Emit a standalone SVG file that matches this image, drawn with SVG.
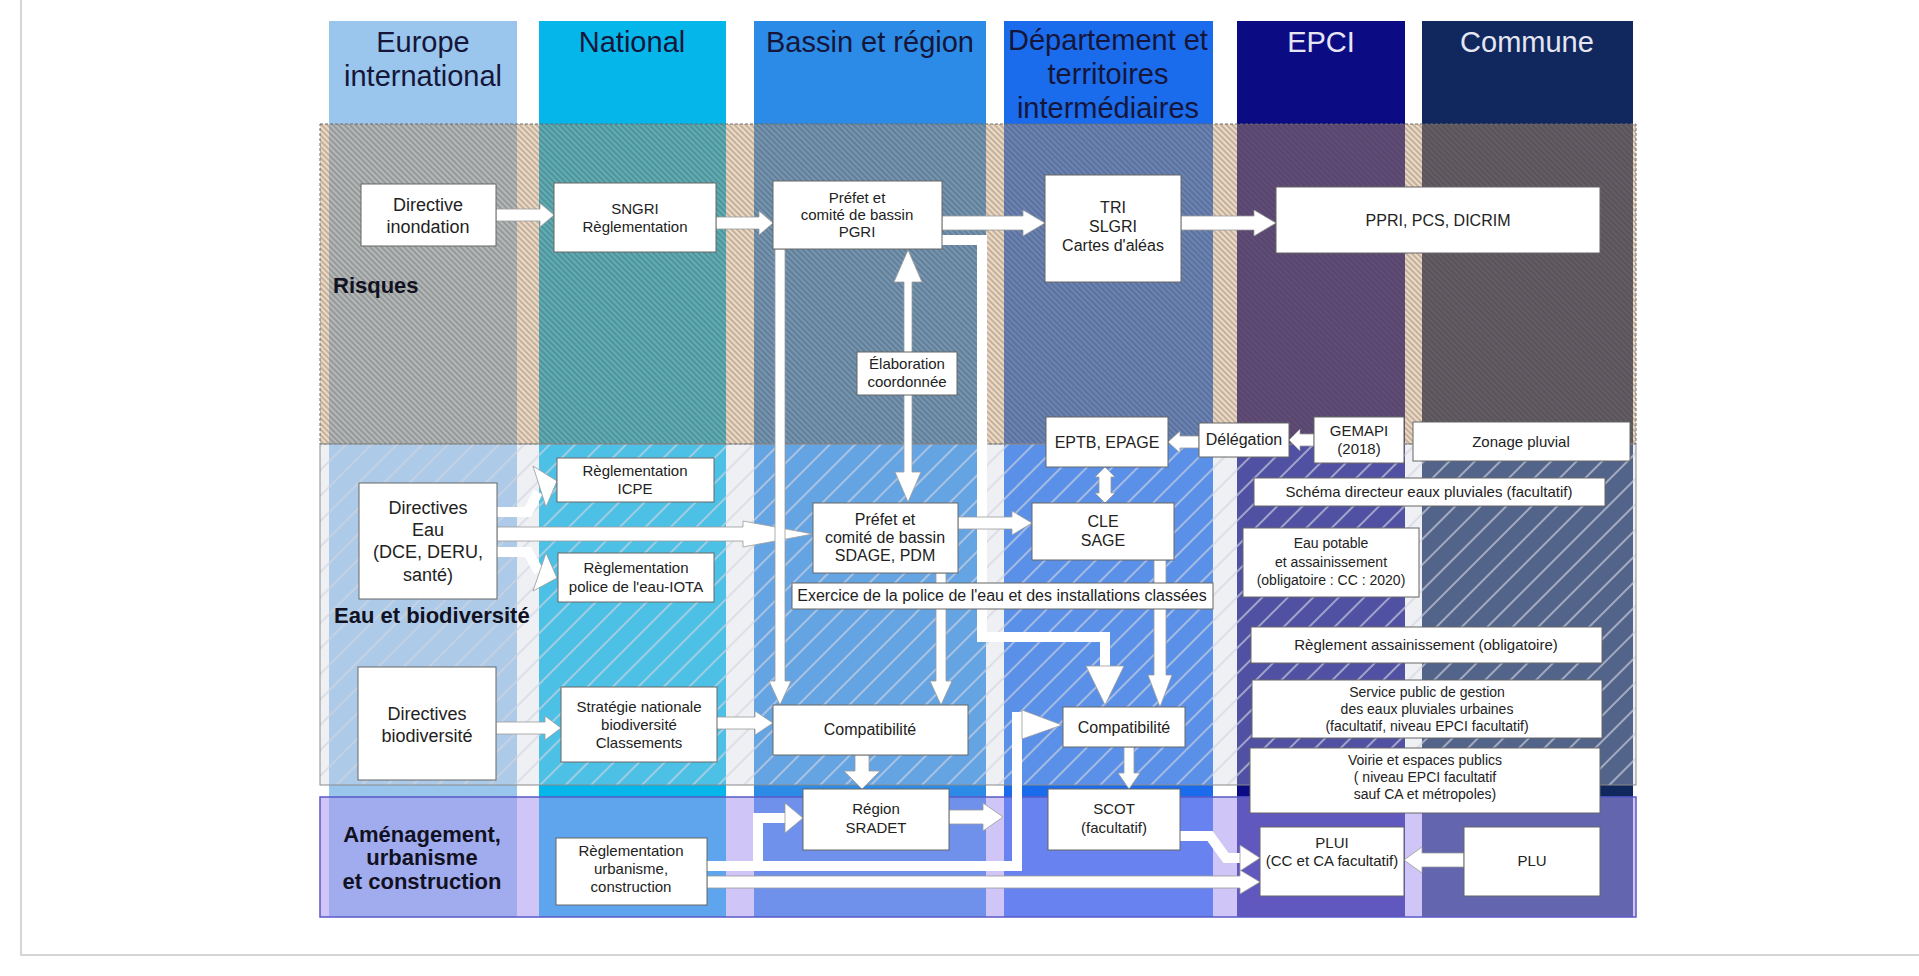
<svg xmlns="http://www.w3.org/2000/svg" width="1919" height="976" viewBox="0 0 1919 976">
<defs>
<style>
.hdr{font-family:"Liberation Sans",Arial,sans-serif;font-size:29px;text-anchor:middle;fill:#16163a}
.hdrl{font-family:"Liberation Sans",Arial,sans-serif;font-size:29px;text-anchor:middle;fill:#e6e6f2}
.band{font-family:"Liberation Sans",Arial,sans-serif;font-size:22px;font-weight:bold;fill:#111122}
.box{fill:#ffffff;stroke:#666;stroke-width:1}
.t{font-family:"Liberation Sans",Arial,sans-serif;font-size:15px;text-anchor:middle;fill:#222}
.t16{font-family:"Liberation Sans",Arial,sans-serif;font-size:16px;text-anchor:middle;fill:#222}
.t18{font-family:"Liberation Sans",Arial,sans-serif;font-size:18px;text-anchor:middle;fill:#222}
.t14{font-family:"Liberation Sans",Arial,sans-serif;font-size:14px;text-anchor:middle;fill:#222}
.arr{fill:#ffffff;stroke:#9a9a9a;stroke-width:0.8;stroke-linejoin:miter}
.ln{fill:none;stroke:#ffffff;stroke-width:10;stroke-linejoin:miter}
</style>
<pattern id="hatchR" patternUnits="userSpaceOnUse" width="4" height="4" patternTransform="rotate(45)">
<line x1="0" y1="1" x2="4" y2="1" stroke="#35354a" stroke-width="1.2" stroke-opacity="0.42"/>
</pattern>
<pattern id="hatchE" patternUnits="userSpaceOnUse" width="18" height="18" patternTransform="rotate(-45)">
<line x1="0" y1="1" x2="18" y2="1" stroke="#d2d4de" stroke-width="1.4" stroke-opacity="0.9"/>
</pattern>
</defs>

<rect x="0" y="0" width="1919" height="976" fill="#ffffff"/>
<path d="M21,0 V955 H1919" fill="none" stroke="#c8c8c8" stroke-width="1.5"/>

<g id="columns">
<rect x="329" y="21" width="188" height="896" fill="#9ac6ee"/>
<rect x="539" y="21" width="187" height="896" fill="#05b6ea"/>
<rect x="754" y="21" width="232" height="896" fill="#2b8be6"/>
<rect x="1004" y="21" width="209" height="896" fill="#1b6ced"/>
<rect x="1237" y="21" width="168" height="896" fill="#0b0b84"/>
<rect x="1422" y="21" width="211" height="896" fill="#10285e"/>
</g>

<g id="bands">
<rect x="320" y="124" width="1316" height="320" fill="#d8a66a" fill-opacity="0.42"/>
<rect x="320" y="124" width="1316" height="320" fill="url(#hatchR)" stroke="#6a6a6a" stroke-width="1" stroke-dasharray="3,2"/>
<rect x="320" y="444" width="1316" height="341" fill="#d0d4dc" fill-opacity="0.35"/>
<rect x="320" y="444" width="1316" height="341" fill="url(#hatchE)" stroke="#8a8a8a" stroke-width="1"/>
<rect x="320" y="797" width="1316" height="120" fill="#a898f0" fill-opacity="0.55" stroke="#5a5ac8" stroke-width="1.5"/>
</g>

<g id="headers">
<text class="hdr" x="423" y="52">Europe</text>
<text class="hdr" x="423" y="86">international</text>
<text class="hdr" x="632" y="52">National</text>
<text class="hdr" x="870" y="52">Bassin et région</text>
<text class="hdr" x="1108" y="50">Département et</text>
<text class="hdr" x="1108" y="84">territoires</text>
<text class="hdr" x="1108" y="118">intermédiaires</text>
<text class="hdrl" x="1321" y="52">EPCI</text>
<text class="hdrl" x="1527" y="52">Commune</text>
</g>

<g id="band-labels">
<text class="band" x="333" y="293">Risques</text>
<text class="band" x="334" y="623">Eau et biodiversité</text>
<text class="band" x="422" y="842" text-anchor="middle">Aménagement,</text>
<text class="band" x="422" y="865" text-anchor="middle">urbanisme</text>
<text class="band" x="422" y="889" text-anchor="middle">et construction</text>
</g>

<g id="connectors">
<path class="ln" d="M942,240 H982 V637 H1105 V668"/>
<polygon class="arr" points="1086,666 1124,666 1105,705"/>
<path class="ln" d="M707,866 H1017 V712"/>
<polygon class="arr" points="1022,710 1062,725 1022,739"/>
<path class="ln" d="M758,866 V818 H787"/>
<polygon class="arr" points="785,803 803,818 785,833"/>
<path class="ln" d="M1180,836 H1210 L1226,858 H1242"/>
<polygon class="arr" points="1240,845 1260,858 1240,871"/>
<path class="ln" d="M497,512 H528 L538,492" stroke-width="9"/>
<polygon class="arr" points="533,466 557,481 546,507"/>
<path class="ln" d="M497,552 H528 L539,572" stroke-width="9"/>
<polygon class="arr" points="546,553 557,578 533,591"/>
<polygon class="arr" points="496,209 540,209 540,203 554,215 540,227 540,221 496,221"/>
<polygon class="arr" points="716,217 759,217 759,211 773,223 759,235 759,229 716,229"/>
<polygon class="arr" points="942,216 1023,216 1023,210 1045,223 1023,236 1023,230 942,230"/>
<polygon class="arr" points="1181,216 1254,216 1254,210 1276,223 1254,236 1254,230 1181,230"/>
<polygon class="arr" points="958,517 1012,517 1012,511 1032,523 1012,535 1012,529 958,529"/>
<polygon class="arr" points="497,527 743,527 743,521 813,534 743,547 743,541 497,541"/>
<polygon class="arr" points="496,722 545,722 545,716 561,728 545,740 545,734 496,734"/>
<polygon class="arr" points="715,717 755,717 755,711 773,723 755,735 755,729 715,729"/>
<polygon class="arr" points="1199,436 1180,436 1180,431 1168,442 1180,453 1180,448 1199,448"/>
<polygon class="arr" points="1314,434 1300,434 1300,429 1289,440 1300,451 1300,446 1314,446"/>
<polygon class="arr" points="949,810 983,810 983,803 1003,817 983,831 983,824 949,824"/>
<polygon class="arr" points="1464,853 1422,853 1422,847 1404,860 1422,873 1422,867 1464,867"/>
<polygon class="arr" points="707,876 1240,876 1240,870 1260,882 1240,894 1240,888 707,888"/>
<polygon class="arr" points="775,249 785,249 785,681 791,681 780,705 769,681 775,681"/>
<polygon class="arr" points="936,573 946,573 946,681 952,681 941,705 930,681 936,681"/>
<polygon class="arr" points="1154,560 1166,560 1166,675 1172,675 1160,707 1148,675 1154,675"/>
<polygon class="arr" points="855,755 869,755 869,771 880,771 862,789 844,771 855,771"/>
<polygon class="arr" points="1124,747 1134,747 1134,773 1140,773 1129,789 1118,773 1124,773"/>
<polygon class="arr" points="908,250 922,282 912,282 912,472 921,472 908,502 895,472 904,472 904,282 894,282"/>
<polygon class="arr" points="1105,467 1115,477 1111,477 1111,493 1115,493 1105,503 1095,493 1099,493 1099,477 1095,477"/>
</g>

<g id="dir-inondation"><rect class="box" x="361" y="184" width="135" height="62"/><text class="t18" x="428" y="211">Directive</text><text class="t18" x="428" y="233">inondation</text></g>
<g id="sngri"><rect class="box" x="554" y="183" width="162" height="69"/><text class="t" x="635" y="214">SNGRI</text><text class="t" x="635" y="232">Règlementation</text></g>
<g id="pgri"><rect class="box" x="773" y="181" width="169" height="68"/><text class="t" x="857" y="203">Préfet et</text><text class="t" x="857" y="220">comité de bassin</text><text class="t" x="857" y="237">PGRI</text></g>
<g id="tri"><rect class="box" x="1045" y="175" width="136" height="107"/><text class="t16" x="1113" y="213">TRI</text><text class="t16" x="1113" y="232">SLGRI</text><text class="t16" x="1113" y="251">Cartes d'aléas</text></g>
<g id="ppri"><rect class="box" x="1276" y="187" width="324" height="66"/><text class="t16" x="1438" y="226">PPRI, PCS, DICRIM</text></g>
<g id="elaboration"><rect class="box" x="857" y="352" width="100" height="43"/><text class="t" x="907" y="369">Élaboration</text><text class="t" x="907" y="387">coordonnée</text></g>
<g id="eptb"><rect class="box" x="1046" y="417" width="122" height="50"/><text class="t16" x="1107" y="448">EPTB, EPAGE</text></g>
<g id="delegation"><rect class="box" x="1199" y="423" width="90" height="34"/><text class="t16" x="1244" y="445">Délégation</text></g>
<g id="gemapi"><rect class="box" x="1314" y="417" width="90" height="46"/><text class="t" x="1359" y="436">GEMAPI</text><text class="t" x="1359" y="454">(2018)</text></g>
<g id="zonage"><rect class="box" x="1413" y="422" width="217" height="39"/><text class="t" x="1521" y="447">Zonage pluvial</text></g>
<g id="schema"><rect class="box" x="1254" y="478" width="351" height="28"/><text class="t" x="1429" y="497">Schéma directeur eaux pluviales (facultatif)</text></g>
<g id="dir-eau"><rect class="box" x="359" y="483" width="138" height="116"/><text class="t18" x="428" y="514">Directives</text><text class="t18" x="428" y="536">Eau</text><text class="t18" x="428" y="558">(DCE, DERU,</text><text class="t18" x="428" y="581">santé)</text></g>
<g id="icpe"><rect class="box" x="557" y="458" width="157" height="44"/><text class="t" x="635" y="476">Règlementation</text><text class="t" x="635" y="494">ICPE</text></g>
<g id="iota"><rect class="box" x="558" y="553" width="156" height="49"/><text class="t" x="636" y="573">Règlementation</text><text class="t" x="636" y="592">police de l'eau-IOTA</text></g>
<g id="sdage"><rect class="box" x="813" y="503" width="145" height="70"/><text class="t16" x="885" y="525">Préfet et</text><text class="t16" x="885" y="543">comité de bassin</text><text class="t16" x="885" y="561">SDAGE, PDM</text></g>
<g id="cle"><rect class="box" x="1032" y="503" width="142" height="57"/><text class="t16" x="1103" y="527">CLE</text><text class="t16" x="1103" y="546">SAGE</text></g>
<g id="eau-potable"><rect class="box" x="1243" y="528" width="176" height="69"/><text class="t14" x="1331" y="548">Eau potable</text><text class="t14" x="1331" y="567">et assainissement</text><text class="t14" x="1331" y="585">(obligatoire : CC : 2020)</text></g>
<g id="exercice"><rect class="box" x="792" y="583" width="421" height="26"/><text class="t16" x="1002" y="601">Exercice de la police de l'eau et des installations classées</text></g>
<g id="reglement-ass"><rect class="box" x="1251" y="627" width="351" height="36"/><text class="t" x="1426" y="650">Règlement assainissement (obligatoire)</text></g>
<g id="dir-biodiv"><rect class="box" x="358" y="667" width="138" height="113"/><text class="t18" x="427" y="720">Directives</text><text class="t18" x="427" y="742">biodiversité</text></g>
<g id="strategie"><rect class="box" x="561" y="687" width="156" height="75"/><text class="t" x="639" y="712">Stratégie nationale</text><text class="t" x="639" y="730">biodiversité</text><text class="t" x="639" y="748">Classements</text></g>
<g id="compat-bassin"><rect class="box" x="773" y="705" width="195" height="50"/><text class="t16" x="870" y="735">Compatibilité</text></g>
<g id="compat-dept"><rect class="box" x="1063" y="707" width="122" height="40"/><text class="t16" x="1124" y="733">Compatibilité</text></g>
<g id="service"><rect class="box" x="1252" y="680" width="350" height="58"/><text class="t14" x="1427" y="697">Service public de gestion</text><text class="t14" x="1427" y="714">des eaux pluviales urbaines</text><text class="t14" x="1427" y="731">(facultatif, niveau EPCI facultatif)</text></g>
<g id="voirie"><rect class="box" x="1250" y="748" width="350" height="65"/><text class="t14" x="1425" y="765">Voirie et espaces publics</text><text class="t14" x="1425" y="782">( niveau EPCI facultatif</text><text class="t14" x="1425" y="799">sauf CA et métropoles)</text></g>
<g id="region"><rect class="box" x="803" y="789" width="146" height="61"/><text class="t" x="876" y="814">Région</text><text class="t" x="876" y="833">SRADET</text></g>
<g id="scot"><rect class="box" x="1048" y="789" width="132" height="61"/><text class="t" x="1114" y="814">SCOT</text><text class="t" x="1114" y="833">(facultatif)</text></g>
<g id="reg-urbanisme"><rect class="box" x="556" y="838" width="151" height="67"/><text class="t" x="631" y="856">Règlementation</text><text class="t" x="631" y="874">urbanisme,</text><text class="t" x="631" y="892">construction</text></g>
<g id="plui"><rect class="box" x="1260" y="827" width="144" height="69"/><text class="t" x="1332" y="848">PLUI</text><text class="t" x="1332" y="866">(CC et CA facultatif)</text></g>
<g id="plu"><rect class="box" x="1464" y="827" width="136" height="69"/><text class="t" x="1532" y="866">PLU</text></g>
</svg>
